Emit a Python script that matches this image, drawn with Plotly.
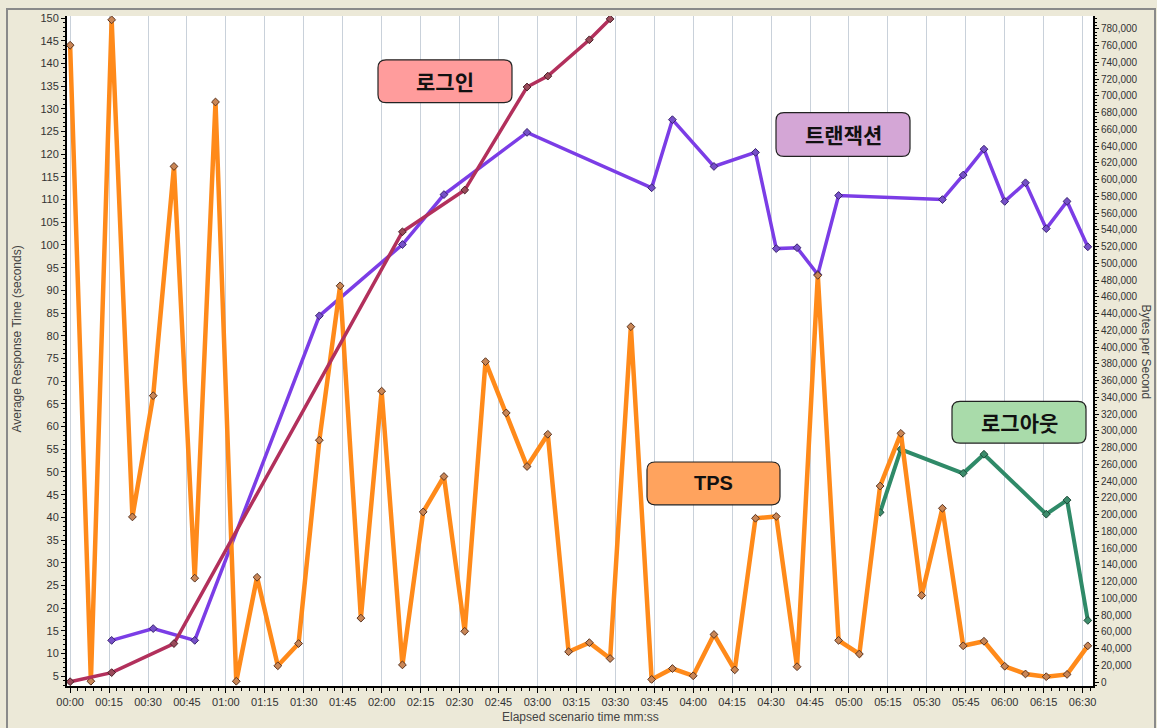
import plotly.graph_objects as go

# ---------------- data (seconds, left-axis units) ----------------
tps_t = list(range(0, 393, 8))
tps_v = [144.0, 3.9, 149.6, 40.1, 66.8, 117.3, 26.6, 131.5, 3.9, 26.8,
         7.3, 12.2, 57.0, 91.0, 17.8, 67.8, 7.5, 41.2, 49.0, 14.9,
         74.3, 63.0, 51.2, 58.3, 10.4, 12.4, 8.9, 82.0, 4.3, 6.7,
         5.1, 14.2, 6.4, 39.8, 40.2, 7.1, 93.3, 12.9, 9.9, 46.9,
         58.5, 22.8, 42.0, 11.7, 12.7, 7.2, 5.5, 4.9, 5.4, 11.7]

trans_t = [16, 32, 48, 96, 128, 144, 176, 224, 232, 248, 264, 272, 280, 288,
           296, 336, 344, 352, 360, 368, 376, 384, 392]
trans_v = [12.9, 15.5, 12.9, 84.4, 100.1, 111.1, 124.8, 112.6, 127.6, 117.3,
           120.4, 99.2, 99.4, 93.5, 110.9, 110.0, 115.4, 121.1, 109.6, 113.7,
           103.6, 109.6, 99.6]

login_t = [0, 16, 40, 128, 152, 176, 184, 200, 208]
login_v = [3.8, 5.8, 12.2, 102.9, 112.1, 134.8, 137.2, 145.2, 149.8]

logout_t = [312, 320, 344, 352, 376, 384, 392]
logout_v = [41.1, 55.0, 49.7, 53.9, 40.7, 43.8, 17.3]

x_tick_secs = list(range(0, 391, 15))
x_tick_text = ["%02d:%02d" % (s // 60, s % 60) for s in x_tick_secs]

labels = ["로그인", "트랜잭션", "TPS", "로그아웃"]
label_fill = ["#FF9C9C", "#D4A6D6", "#FFA35E", "#A9DBAA"]
label_font = ["Noto Sans CJK KR", "Noto Sans CJK KR", "Liberation Sans", "Noto Sans CJK KR"]
label_size = [21, 21, 20, 21]
# label box centres / sizes in pixels of the 1157x728 canvas
label_box = [(445, 78.5, 134, 43), (843, 132, 134, 44),
             (713.5, 482.5, 133, 43), (1019, 421, 134, 42)]

# ---------------- layout geometry ----------------
W, H = 1157, 728
PL, PR, PT, PB = 67, 1093, 13, 686
BG = "#ECE9D8"
FONT = "Liberation Sans"


def px2paper(x, y):
    return (x - PL) / (PR - PL), 1 - (y - PT) / (PB - PT)


def rounded_path(cx, cy, w, h, r=8):
    x0, x1 = cx - w / 2, cx + w / 2
    y0, y1 = cy - h / 2, cy + h / 2

    def P(x, y):
        px, py = px2paper(x, y)
        return "%.5f,%.5f" % (px, py)
    d = "M " + P(x0 + r, y0)
    d += " L " + P(x1 - r, y0)
    d += " Q " + P(x1, y0) + " " + P(x1, y0 + r)
    d += " L " + P(x1, y1 - r)
    d += " Q " + P(x1, y1) + " " + P(x1 - r, y1)
    d += " L " + P(x0 + r, y1)
    d += " Q " + P(x0, y1) + " " + P(x0, y1 - r)
    d += " L " + P(x0, y0 + r)
    d += " Q " + P(x0, y0) + " " + P(x0 + r, y0) + " Z"
    return d


fig = go.Figure()

fig.add_trace(go.Scatter(
    x=logout_t, y=logout_v, mode="lines+markers", name="로그아웃",
    line=dict(color="#2F8A68", width=4),
    marker=dict(symbol="diamond", size=6, color="#3C8C6C",
                line=dict(color="#1E4A38", width=1))))
fig.add_trace(go.Scatter(
    x=trans_t, y=trans_v, mode="lines+markers", name="트랜잭션",
    line=dict(color="#7B3DE6", width=3.5),
    marker=dict(symbol="diamond", size=6, color="#7650C8",
                line=dict(color="#3A2470", width=1))))
fig.add_trace(go.Scatter(
    x=tps_t, y=tps_v, mode="lines+markers", name="TPS",
    line=dict(color="#FF8A1A", width=4.5),
    marker=dict(symbol="diamond", size=6, color="#C98656",
                line=dict(color="#5A3420", width=1))))
fig.add_trace(go.Scatter(
    x=login_t, y=login_v, mode="lines+markers", name="로그인",
    line=dict(color="#B2305C", width=3.5),
    marker=dict(symbol="diamond", size=6, color="#9A4A5A",
                line=dict(color="#4A2028", width=1))))
# right axis carrier
fig.add_trace(go.Scatter(x=[None], y=[None], yaxis="y2", showlegend=False,
                         hoverinfo="skip"))

shapes = []
annotations = []
for txt, fill, fnt, fs, (cx, cy, w, h) in zip(labels, label_fill, label_font,
                                               label_size, label_box):
    shapes.append(dict(type="path", xref="paper", yref="paper",
                       path=rounded_path(cx, cy, w, h),
                       fillcolor=fill, line=dict(color="#222222", width=1.2),
                       layer="above"))
    ax, ay = px2paper(cx, cy)
    annotations.append(dict(xref="paper", yref="paper", x=ax, y=ay,
                            text="<b>%s</b>" % txt, showarrow=False,
                            xanchor="center", yanchor="middle",
                            font=dict(family=fnt, size=fs, color="#111111")))

# outer frame
fx0, fy0 = px2paper(7, 6)
fx1, fy1 = px2paper(1155, 760)
shapes.append(dict(type="rect", xref="paper", yref="paper",
                   x0=fx0, y0=fy1, x1=fx1, y1=fy0,
                   line=dict(color="#8A8A8A", width=2), layer="below"))

# axis titles
tx, ty = px2paper(17, 338)
annotations.append(dict(xref="paper", yref="paper", x=tx, y=ty,
                        text="Average Response Time (seconds)", textangle=-90,
                        showarrow=False, xanchor="center", yanchor="middle",
                        font=dict(family=FONT, size=12, color="#444444")))
tx, ty = px2paper(1146, 350)
annotations.append(dict(xref="paper", yref="paper", x=tx, y=ty,
                        text="Bytes per Second", textangle=90,
                        showarrow=False, xanchor="center", yanchor="middle",
                        font=dict(family=FONT, size=12, color="#444444")))
tx, ty = px2paper(580, 717)
annotations.append(dict(xref="paper", yref="paper", x=tx, y=ty,
                        text="Elapsed scenario time mm:ss",
                        showarrow=False, xanchor="center", yanchor="middle",
                        font=dict(family=FONT, size=12, color="#444444")))

fig.update_layout(
    width=W, height=H,
    margin=dict(l=PL, r=W - PR, t=PT, b=H - PB, pad=0),
    paper_bgcolor=BG, plot_bgcolor="white",
    showlegend=False,
    font=dict(family=FONT, size=11, color="#333333"),
    xaxis=dict(range=[-1.2, 394], tickvals=x_tick_secs, ticktext=x_tick_text,
               showgrid=True, gridcolor="#C9D1DA", gridwidth=1,
               showline=True, linecolor="black", linewidth=2, mirror=False,
               ticks="outside", ticklen=5, tickcolor="black",
               minor=dict(dtick=3, tick0=0, ticks="outside", ticklen=3,
                          tickcolor="black", showgrid=False),
               zeroline=False, tickfont=dict(size=11, color="#333333")),
    yaxis=dict(range=[2.85, 150.44], tick0=0, dtick=5,
               showgrid=False, showline=True, linecolor="black", linewidth=2,
               ticks="outside", ticklen=4, tickcolor="black",
               minor=dict(dtick=1, ticks="outside", ticklen=2,
                          tickcolor="black", showgrid=False),
               zeroline=False, tickfont=dict(size=11, color="#333333")),
    yaxis2=dict(range=[-4780, 795458], tick0=0, dtick=20000,
                tickformat=",", overlaying="y", side="right",
                showgrid=False, showline=True, linecolor="black", linewidth=2,
                ticks="outside", ticklen=4, tickcolor="black",
                minor=dict(dtick=4000, ticks="outside", ticklen=2,
                           tickcolor="black", showgrid=False),
                zeroline=False, tickfont=dict(size=10, color="#333333")),
    shapes=shapes,
    annotations=annotations,
)

fig.write_html("out.html",
               config={"displayModeBar": False},
               post_script="document.body.style.margin='0';"
                           "document.body.style.padding='0';"
                           "document.body.style.overflow='hidden';")
